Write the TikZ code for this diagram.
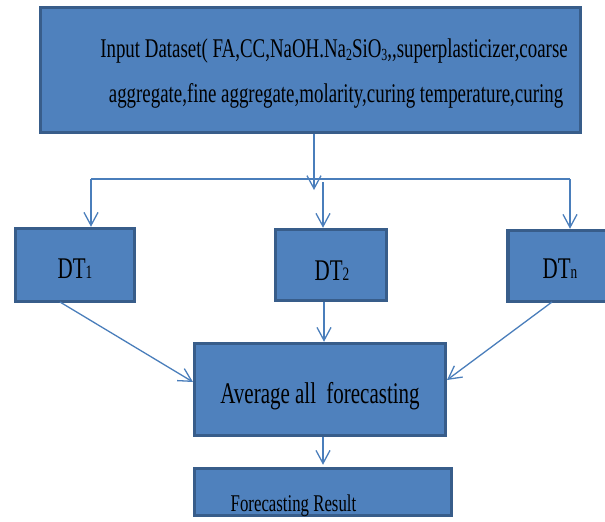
\documentclass[tikz,border=0pt]{standalone}
\usepackage{fontspec}
\newfontfamily\tnr[FakeStretch=0.7]{Liberation Serif}
\usetikzlibrary{arrows.meta,calc}
\definecolor{boxfill}{HTML}{4F81BD}
\definecolor{boxline}{HTML}{385D8A}
\definecolor{arr}{HTML}{4A7EBB}
\tikzset{
  blk/.style={draw=boxline, fill=boxfill, line width=3.5pt, inner sep=0pt, rectangle},
  lbl/.style={anchor=base, inner sep=0pt, text=black},
  con/.style={draw=arr, line width=1.3pt, -{Straight Barb[length=13pt,width=14pt,line width=1.3pt]}},
  ln/.style={draw=arr, line width=1.3pt},
}
\begin{document}
\begin{tikzpicture}[x=1pt,y=-1pt]
\useasboundingbox (0,0) rectangle (605,522);
% boxes
\node[blk, minimum width=540pt, minimum height=125pt] (input) at (310.5,70) {};
\node[blk, minimum width=119pt, minimum height=73pt] (dt1) at (75,265) {};
\node[blk, minimum width=111pt, minimum height=71pt] (dt2) at (331,265) {};
\node[blk, minimum width=110pt, minimum height=71pt] (dtn) at (563,266) {};
\node[blk, minimum width=251pt, minimum height=92pt] (avg) at (320,389.5) {};
\node[blk, minimum width=257pt, minimum height=47pt] (res) at (323,492) {};
% texts
\node[lbl, font=\tnr\fontsize{27}{27}\selectfont] (inA) at (334,57)
  {Input Dataset( FA,CC,NaOH.Na{\fontsize{17}{17}\selectfont\raisebox{-3pt}{2}}SiO{\fontsize{17}{17}\selectfont\raisebox{-3pt}{3}},,superplasticizer,coarse};
\node[lbl, font=\tnr\fontsize{27}{27}\selectfont] (inB) at (336,102)
  {aggregate,fine aggregate,molarity,curing temperature,curing};
\node[lbl, font=\tnr\fontsize{30}{30}\selectfont] (dt1t) at (75,278) {DT{\fontsize{19}{19}\selectfont 1}};
\node[lbl, font=\tnr\fontsize{30}{30}\selectfont] (dt2t) at (332,280) {DT{\fontsize{19}{19}\selectfont 2}};
\node[lbl, font=\tnr\fontsize{30}{30}\selectfont] (dtnt) at (560,278) {DT{\fontsize{19}{19}\selectfont n}};
\node[lbl, font=\tnr\fontsize{30}{30}\selectfont] (avgt) at (320,403) {Average all\, forecasting};
\node[lbl, font=\tnr\fontsize{24}{24}\selectfont] (rest) at (293.5,511) {Forecasting Result};
% connectors
\coordinate (hl) at (91,179);
\coordinate (hr) at (570,179);
\coordinate (hm) at (314,190);
\coordinate (h2) at (323,182);
\draw[con] (input.south -| hm) -- (hm);
\draw[ln] (hl) -- (hr);
\draw[con] (hl) -- (hl |- dt1.north);
\draw[con] (h2) -- (h2 |- dt2.north);
\draw[con] (hr) -- (hr |- dtn.north);
\coordinate (d1s) at (60,302);
\coordinate (d1e) at (193,382);
\coordinate (dns) at (552,302);
\coordinate (dne) at (447,380);
\draw[con] (d1s) -- (d1e);
\draw[con] (dns) -- (dne);
\coordinate (d2x) at (324,0);
\draw[con] (dt2.south -| d2x) -- (d2x |- avg.north);
\coordinate (ax) at (323,0);
\draw[con] (avg.south -| ax) -- ($(ax |- res.north)+(0,-2)$);
\end{tikzpicture}
\end{document}
